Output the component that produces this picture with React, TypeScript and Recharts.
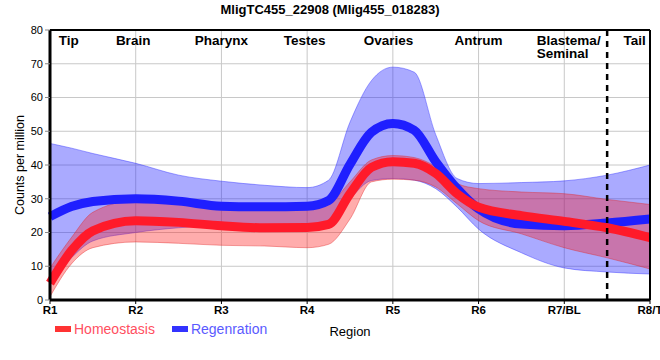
import React from 'react'
import {
  ComposedChart, Area, Line, XAxis, YAxis, CartesianGrid, ReferenceLine,
} from 'recharts'

// positions along the body axis (0 = R1 ... 7 = R8/T)
const POS = [0, 0.25, 0.5, 1, 1.5, 2, 2.5, 3, 3.25, 3.5, 3.75, 4, 4.25, 4.5, 4.75, 5, 5.5, 6, 6.5, 7]

const HOMEO = [5, 14.6, 20.5, 23.5, 23, 22, 21.4, 21.5, 22.4, 31.5, 39.3, 41, 40.5, 37.5, 31.5, 27.5, 25, 23.3, 21.4, 18.5]
const HOMEO_HI = [9.5, 18.5, 26, 29.5, 28.5, 27.7, 27.4, 27.5, 28.5, 35, 41.5, 42.8, 42.2, 39.5, 34.5, 33, 32, 31.5, 29.8, 28.3]
const HOMEO_LO = [1, 10.7, 15.5, 17.2, 16.8, 16.2, 16, 15.5, 16.5, 24, 35, 35.8, 35.5, 33.5, 28.5, 23.5, 19.6, 15.5, 12.5, 9.2]

const REGEN = [24.7, 27.7, 29.2, 30, 29.3, 27.8, 27.6, 27.8, 29.5, 40.2, 49.7, 52.3, 50.3, 41, 33, 27, 22.5, 22, 22.8, 24]
const REGEN_HI = [46.4, 45, 43.4, 40.5, 37, 35.2, 34, 33.3, 35.5, 52.7, 65, 69, 67.5, 49, 36, 34.5, 34.8, 35.3, 37, 40]
const REGEN_LO = [5, 12.5, 17.5, 20, 21.4, 22, 21.6, 21.5, 23, 30, 35.4, 36, 35.5, 33, 27.5, 21, 14, 9.5, 8.3, 7.7]

const REGION_TICKS = ['R1', 'R2', 'R3', 'R4', 'R5', 'R6', 'R7/BL', 'R8/T']
const Y_TICKS = [0, 10, 20, 30, 40, 50, 60, 70, 80]

const TISSUES = ['Tip', 'Brain', 'Pharynx', 'Testes', 'Ovaries', 'Antrum', 'Blastema/\nSeminal', 'Tail']
const TISSUE_POS = [0.22, 0.97, 2, 2.97, 3.95, 5, 5.68, 6.82]

const RED = '#ff1a2a'
const BLUE = '#1f1fff'
const FONT = "'Liberation Sans', Arial, sans-serif"
const GRID = '#c8c8c8'

const data = POS.map((x, i) => ({
  x,
  homeo: HOMEO[i],
  homeoBand: [HOMEO_LO[i], HOMEO_HI[i]],
  regen: REGEN[i],
  regenBand: [REGEN_LO[i], REGEN_HI[i]],
}))

// tissue name drawn just under the top frame
function TissueLabel({ viewBox, text }: any) {
  const lines = text.split('\n')
  const anchor = lines.length > 1 ? 'start' : 'middle'
  return (
    <g>
      {lines.map((l: string, i: number) => (
        <text key={i} x={viewBox.x} y={viewBox.y + 14.5 + i * 13.5} textAnchor={anchor}
          fontFamily={FONT} fontWeight="bold" fontSize={13.5} fill="#000">{l}</text>
      ))}
    </g>
  )
}

function YLabel({ viewBox }: any) {
  const cy = viewBox.y + viewBox.height / 2
  return (
    <text transform={`translate(20, ${cy}) rotate(-90)`} textAnchor="middle" dominantBaseline="central"
      fontFamily={FONT} fontSize={12.5} fill="#000">
      Counts per million
    </text>
  )
}

function XLabel({ viewBox }: any) {
  return (
    <text x={viewBox.x + viewBox.width / 2} y={viewBox.y + viewBox.height - 4} textAnchor="middle"
      fontFamily={FONT} fontSize={13} fill="#000">
      Region
    </text>
  )
}

const legend = [
  { name: 'Homeostasis', swatch: '#ff3333', text: '#ff4f5f' },
  { name: 'Regenration', swatch: '#3333ff', text: '#5a5aff' },
]

export default function App() {
  return (
    <div style={{ position: 'relative', width: 660, height: 360, background: '#fff' }}>
      <style>{'body{margin:0}'}</style>
      <div style={{ position: 'absolute', top: 2, left: 0, width: 660, textAlign: 'center', fontFamily: FONT, fontWeight: 'bold', fontSize: 13 }}>
        MligTC455_22908 (Mlig455_018283)
      </div>
      <ComposedChart width={660} height={360} data={data} margin={{ top: 30, right: 10, bottom: 20, left: 0 }}>
        <CartesianGrid xAxisId="main" stroke={GRID} strokeWidth={1} />
        <XAxis
          xAxisId="main" dataKey="x" type="number" domain={[0, 7]} ticks={[0, 1, 2, 3, 4, 5, 6, 7]}
          tickFormatter={(v: number) => REGION_TICKS[v]} height={40} interval={0}
          axisLine={{ stroke: '#000', strokeWidth: 3 }} tickLine={{ stroke: '#000' }} tickSize={4}
          tick={{ fontFamily: FONT, fontWeight: 'bold', fontSize: 11.5, fill: '#000' }}
          label={<XLabel />}
        />
        <YAxis
          domain={[0, 80]} ticks={Y_TICKS} width={50} interval={0}
          axisLine={{ stroke: '#000', strokeWidth: 3 }} tickLine={{ stroke: '#888' }} tickSize={5}
          tick={{ fontFamily: FONT, fontSize: 11, fill: '#000' }}
          label={<YLabel />}
        />
        <Area xAxisId="main" type="monotone" dataKey="regenBand" fill="#2020ff" fillOpacity={0.38} stroke="#3030ff" strokeOpacity={0.45} strokeWidth={1} isAnimationActive={false} />
        <Line xAxisId="main" type="monotone" dataKey="regen" stroke={BLUE} strokeWidth={9} dot={false} isAnimationActive={false} />
        <Area xAxisId="main" type="monotone" dataKey="homeoBand" fill="#ff1a1a" fillOpacity={0.36} stroke="#e02020" strokeOpacity={0.4} strokeWidth={1} isAnimationActive={false} />
        <Line xAxisId="main" type="monotone" dataKey="homeo" stroke={RED} strokeWidth={9} dot={false} isAnimationActive={false} />
        <ReferenceLine xAxisId="main" x={6.5} stroke="#000" strokeWidth={2.5} strokeDasharray="6 5" />
        <ReferenceLine xAxisId="main" x={7} stroke="#000" strokeWidth={2} />
        <ReferenceLine xAxisId="main" y={80} stroke="#000" strokeWidth={2} />
        {TISSUES.map((t, i) => (
          <ReferenceLine key={t} xAxisId="main" x={TISSUE_POS[i]} stroke="none" label={<TissueLabel text={t} />} />
        ))}
      </ComposedChart>
      <div style={{ position: 'absolute', top: 321, left: 55, display: 'flex', fontFamily: FONT, fontSize: 14 }}>
        {legend.map((l) => (
          <div key={l.name} style={{ display: 'flex', alignItems: 'center', marginRight: 17 }}>
            <span style={{ display: 'inline-block', width: 16, height: 6, background: l.swatch, marginRight: 3 }} />
            <span style={{ color: l.text }}>{l.name}</span>
          </div>
        ))}
      </div>
    </div>
  )
}
